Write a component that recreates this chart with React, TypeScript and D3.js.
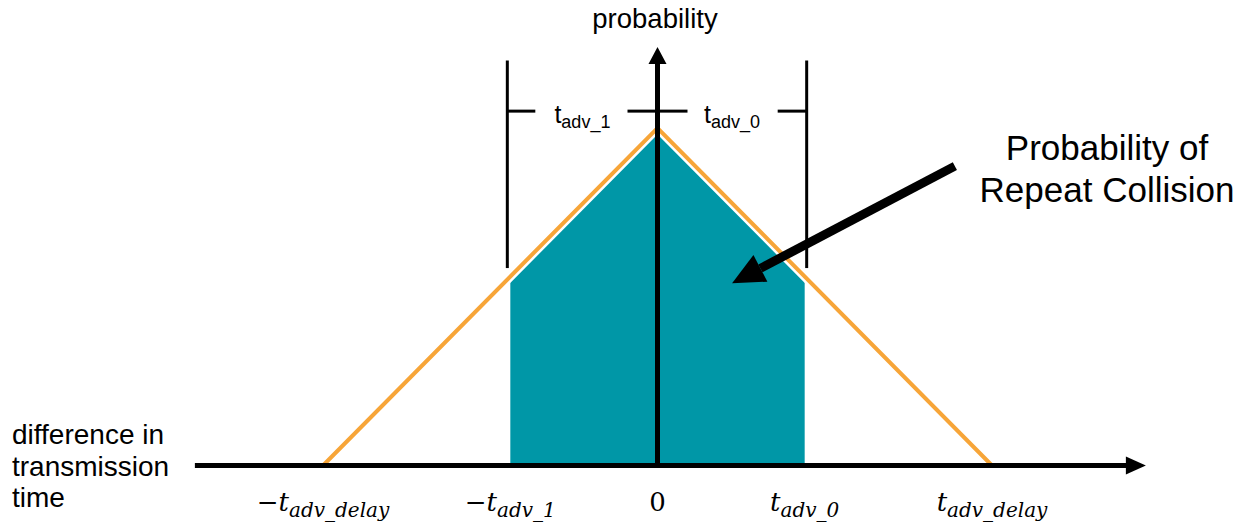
import React from "react";
import * as d3 from "d3";

// ---- data (in units of t_adv_delay, probability normalised to peak = 1)
const triangleX = [-1, 0, 1];
const triangleP = [0, 1, 0];
const tealX = [-0.44, -0.44, 0, 0.44, 0.44];
const tealP = [0, 0.56, 1, 0.56, 0];
const tickValues = [-1, -0.44, 0, 0.44, 1];
const tickSigns = ["−", "−", "", "", ""];
const tickMain = ["t", "t", "0", "t", "t"];
const tickSubs = ["adv_delay", "adv_1", "", "adv_0", "adv_delay"];
const xAxisExtent = [-1.383, 1.46];
const yAxisTop = 1.24;
const bracketX = [-0.44, 0.44];
const bracketSubs = ["adv_1", "adv_0"];
const bracketTop = 1.2;
const bracketBottom = 0.585;
const bracketLevel = 1.05;
const annotationLines = ["Probability of", "Repeat Collision"];
const xTitleLines = ["difference in", "transmission", "time"];
const arrowFrom = [0.889, 0.887];
const arrowTo = [0.223, 0.54];

const W = 1252;
const H = 523;
const TEAL = "#0097A7";
const ORANGE = "#F7A538";
const SANS = "'Liberation Sans', Arial, sans-serif";
const SERIF = "'DejaVu Serif', serif";

export default function App() {
  const x = d3.scaleLinear().domain([-1, 1]).range([323, 992]);
  const y = d3.scaleLinear().domain([0, 1]).range([465.5, 128]);
  const x0 = x(0);
  const y0 = y(0);

  const line = d3
    .line<number>()
    .x((d) => x(triangleX[d]))
    .y((d) => y(triangleP[d]));
  const tealArea = d3
    .line<number>()
    .x((d) => x(tealX[d]))
    .y((d) => y(tealP[d]));

  const axL = x(xAxisExtent[0]);
  const axR = x(xAxisExtent[1]);
  const yTop = y(yAxisTop);

  // annotation arrow
  const ax1 = x(arrowFrom[0]);
  const ay1 = y(arrowFrom[1]);
  const ax2 = x(arrowTo[0]);
  const ay2 = y(arrowTo[1]);
  const dx = ax2 - ax1;
  const dy = ay2 - ay1;
  const len = Math.hypot(dx, dy);
  const ux = dx / len;
  const uy = dy / len;
  const headLen = 32;
  const headW = 15;
  const bx = ax2 - ux * headLen;
  const by = ay2 - uy * headLen;
  const head = `M${ax2},${ay2} L${bx - uy * headW},${by + ux * headW} L${bx + uy * headW},${by - ux * headW} Z`;

  const bTop = y(bracketTop);
  const bBot = y(bracketBottom);
  const bLev = y(bracketLevel);

  return (
    <svg
      width={W}
      height={H}
      style={{ position: "absolute", left: 0, top: 0, background: "#fff" }}
    >
      <rect x={0} y={0} width={W} height={H} fill="#fff" />
      {/* teal region */}
      <path d={tealArea(d3.range(tealX.length)) + "Z"} fill={TEAL} />
      {/* orange triangle with white halo */}
      <path
        d={line(d3.range(triangleX.length)) ?? ""}
        fill="none"
        stroke="#fff"
        strokeWidth={9}
        strokeLinejoin="miter"
      />
      <path
        d={line(d3.range(triangleX.length)) ?? ""}
        fill="none"
        stroke={ORANGE}
        strokeWidth={4}
        strokeLinejoin="miter"
      />

      {/* x axis */}
      <line x1={axL} x2={axR - 18} y1={y0} y2={y0} stroke="#000" strokeWidth={5} />
      <path d={`M${axR},${y0} L${axR - 20},${y0 - 9} L${axR - 20},${y0 + 9} Z`} fill="#000" />
      {/* y axis */}
      <line x1={x0} x2={x0} y1={y0} y2={yTop + 15} stroke="#000" strokeWidth={5} />
      <path d={`M${x0},${yTop} L${x0 - 9},${yTop + 17} L${x0 + 9},${yTop + 17} Z`} fill="#000" />

      {/* axis titles */}
      <text x={655} y={28} textAnchor="middle" fontFamily={SANS} fontSize={27.5} fill="#000">
        probability
      </text>
      {xTitleLines.map((t, i) => (
        <text key={t} x={12} y={444 + i * 31.5} fontFamily={SANS} fontSize={28} fill="#000">
          {t}
        </text>
      ))}

      {/* tick labels */}
      {tickValues.map((v, i) => (
        <text
          key={i}
          x={x(v)}
          y={511}
          textAnchor="middle"
          fontFamily={SERIF}
          fontSize={26}
          fill="#000"
        >
          {tickSigns[i] && <tspan>{tickSigns[i]}</tspan>}
          <tspan fontStyle={tickMain[i] === "0" ? "normal" : "italic"}>{tickMain[i]}</tspan>
          {tickSubs[i] && (
            <tspan fontStyle="italic" fontSize={20} dy={6}>
              {tickSubs[i]}
            </tspan>
          )}
        </text>
      ))}

      {/* brackets */}
      {bracketX.map((v, i) => {
        const bxp = x(v) + (i === 0 ? -3 : 2);
        const left = i === 0;
        return (
          <g key={i}>
            <line x1={bxp} x2={bxp} y1={bTop} y2={bBot} stroke="#000" strokeWidth={3} />
            <line
              x1={bxp}
              x2={left ? bxp + 28 : bxp - 29}
              y1={bLev}
              y2={bLev}
              stroke="#000"
              strokeWidth={3}
            />
            <line
              x1={x0}
              x2={left ? x0 - 30 : x0 + 30}
              y1={bLev}
              y2={bLev}
              stroke="#000"
              strokeWidth={3}
            />
            <text
              x={(bxp + x0) / 2}
              y={123}
              textAnchor="middle"
              fontFamily={SANS}
              fontSize={25}
              fill="#000"
            >
              t
              <tspan fontSize={18} dy={5}>
                {bracketSubs[i]}
              </tspan>
            </text>
          </g>
        );
      })}

      {/* annotation */}
      <line x1={ax1} y1={ay1} x2={bx} y2={by} stroke="#000" strokeWidth={9} />
      <path d={head} fill="#000" />
      {annotationLines.map((t, i) => (
        <text
          key={t}
          x={1107}
          y={160 + i * 42}
          textAnchor="middle"
          fontFamily={SANS}
          fontSize={35}
          fill="#000"
        >
          {t}
        </text>
      ))}
    </svg>
  );
}
